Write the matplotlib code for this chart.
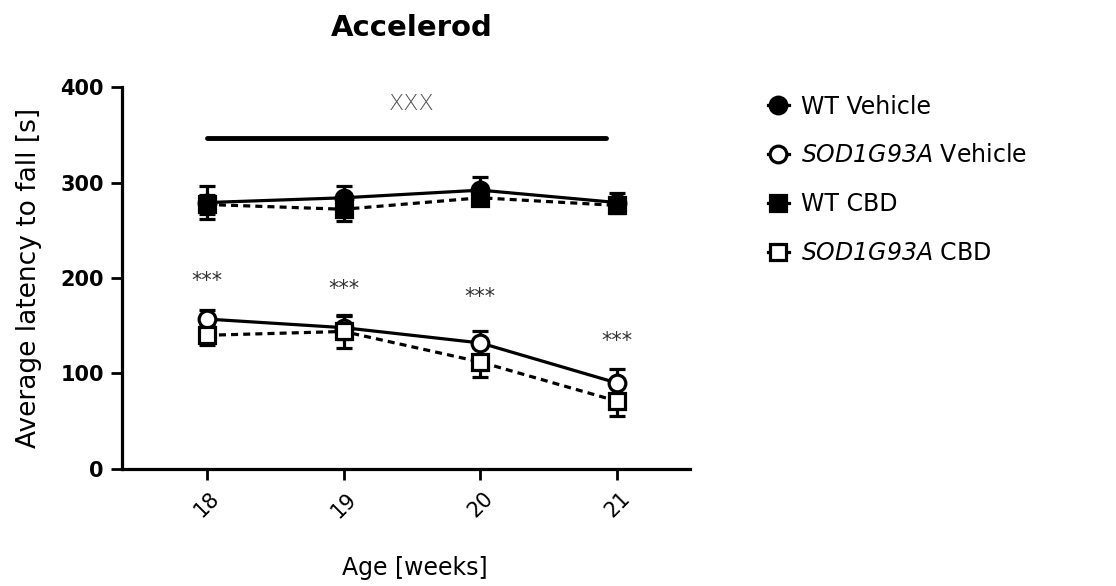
import matplotlib
matplotlib.use("Agg")
import matplotlib.pyplot as plt
from matplotlib.lines import Line2D
import numpy as np

plt.rcParams['font.family'] = ['DejaVu Sans']
plt.rcParams['mathtext.fontset'] = 'custom'
plt.rcParams['mathtext.rm'] = 'DejaVu Sans:italic'
plt.rcParams['mathtext.it'] = 'DejaVu Sans:italic'

# Rotarod latency (mean ± SEM) by age
weeks = [18, 19, 20, 21]
wt_vehicle = [279, 284, 292, 279]
wt_vehicle_sem = [17, 12, 14, 10]
sod_vehicle = [157, 148, 132, 90]
sod_vehicle_sem = [10, 12, 13, 15]
wt_cbd = [277, 272, 284, 276]
wt_cbd_sem = [10, 12, 8, 8]
sod_cbd = [140, 144, 112, 71]
sod_cbd_sem = [10, 17, 16, 16]

labels = ["WT Vehicle", r"$SOD1G93A$ Vehicle", "WT CBD", r"$SOD1G93A$ CBD"]
star_y = [197, 189, 180, 134]
bar_y = 347
bar_label = "XXX"

fig = plt.figure(figsize=(11.16, 5.86), dpi=100)
ax = fig.add_axes([0.1093, 0.1997, 0.5087, 0.6518])

lw = 2.3
ms = 12
dash = (0, (2.2, 1.6))
common = dict(capsize=6, capthick=2.3, elinewidth=2.3, markersize=ms, color='black',
              markeredgewidth=2.3)
series = [
    (wt_vehicle, wt_vehicle_sem, 'o', 'black', '-'),
    (sod_vehicle, sod_vehicle_sem, 'o', 'white', '-'),
    (wt_cbd, wt_cbd_sem, 's', 'black', dash),
    (sod_cbd, sod_cbd_sem, 's', 'white', dash),
]
handles = []
for vals, sem, mk, fc, ls in series:
    ax.errorbar(weeks, vals, yerr=sem, fmt=mk, linestyle=ls, linewidth=lw,
                markerfacecolor=fc, markeredgecolor='black', **common)
    handles.append(Line2D([], [], color='black', linestyle='-', linewidth=lw,
                          marker=mk, markersize=ms, markerfacecolor=fc,
                          markeredgecolor='black', markeredgewidth=2.3))

# significance markers
for x, y in zip(weeks, star_y):
    ax.text(x, y, "***", ha='center', va='center', fontsize=15, color='#333333')
ax.plot([weeks[0], weeks[-1] - 0.08], [bar_y, bar_y], color='black', linewidth=3.5,
        solid_capstyle='round')
ax.text(np.mean(weeks), 382, bar_label, ha='center', va='center', fontsize=16,
        color='#555555', fontweight='light')

ax.set_xlim(17.38, 21.53)
ax.set_ylim(0, 400)
ax.set_yticks([0, 100, 200, 300, 400])
ax.set_xticks(weeks)
ax.set_xticklabels([str(w) for w in weeks], rotation=45, fontsize=15)
for t in ax.get_yticklabels():
    t.set_fontweight('bold')
ax.tick_params(axis='y', labelsize=15, width=2, length=8, pad=5)
ax.tick_params(axis='x', width=2, length=8, pad=6)
for s in ['top', 'right']:
    ax.spines[s].set_visible(False)
for s in ['left', 'bottom']:
    ax.spines[s].set_linewidth(2.3)

ax.set_ylabel("Average latency to fall [s]", fontsize=19, labelpad=13)
ax.set_xlabel("Age [weeks]", fontsize=17, labelpad=25, x=0.516)
ax.set_title("Accelerod", fontsize=21, fontweight='bold', pad=37, x=0.51)

fig.legend(handles=handles, labels=labels, loc='upper left',
           bbox_to_anchor=(0.669, 0.875), frameon=False, fontsize=17,
           handlelength=0.9, handletextpad=0.5, labelspacing=1.05)

fig.savefig("out.png", dpi=100)
